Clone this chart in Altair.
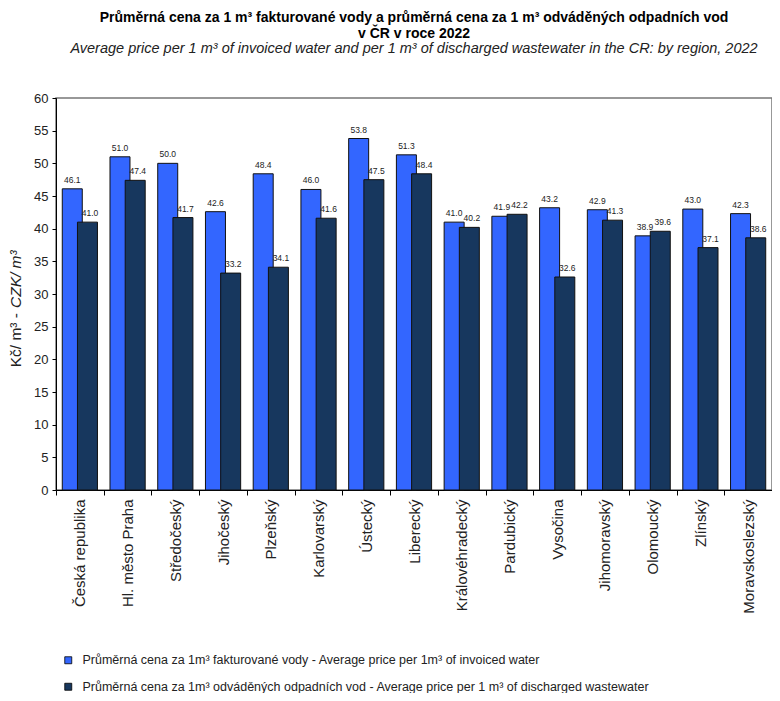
import altair as alt
import pandas as pd

regions = ["Česká republika", "Hl. město Praha", "Středočeský", "Jihočeský", "Plzeňský",
           "Karlovarský", "Ústecký", "Liberecký", "Královéhradecký", "Pardubický",
           "Vysočina", "Jihomoravský", "Olomoucký", "Zlínský", "Moravskoslezský"]
water = [46.1, 51.0, 50.0, 42.6, 48.4, 46.0, 53.8, 51.3, 41.0, 41.9, 43.2, 42.9, 38.9, 43.0, 42.3]
waste = [41.0, 47.4, 41.7, 33.2, 34.1, 41.6, 47.5, 48.4, 40.2, 42.2, 32.6, 41.3, 39.6, 37.1, 38.6]
series_names = [
    "Průměrná cena za 1m³ fakturované vody  - Average price per 1m³ of invoiced water",
    "Průměrná cena za 1m³ odváděných odpadních vod  -  Average price per 1 m³ of discharged wastewater",
]
colors = ["#3366FF", "#17375E"]
y_ticks = list(range(0, 61, 5))
title_lines = ["Průměrná cena za 1 m³ fakturované vody a průměrná cena za 1 m³ odváděných odpadních vod",
               "v ČR v roce 2022"]
subtitle = "Average  price per 1 m³ of invoiced water and per 1 m³ of discharged  wastewater in the CR: by region,  2022"
ytitle_cz = ["Kč/ m³ -"]
ytitle_en = ["CZK/ m³"]

FONT = "Liberation Sans"

rows = []
for s, vals in zip(series_names, [water, waste]):
    for r, v in zip(regions, vals):
        rows.append({"region": r, "series": s, "value": v})
df = pd.DataFrame(rows)

x = alt.X("region:N", sort=regions,
          scale=alt.Scale(paddingInner=0, paddingOuter=0),
          axis=alt.Axis(title=None, labelAngle=270, labelFont=FONT, labelFontSize=15,
                        labelColor="#222", tickBand="extent", tickSize=5, tickColor="#000",
                        domainColor="#000", labelPadding=4))
xo = alt.XOffset("series:N", sort=series_names,
                 scale=alt.Scale(paddingOuter=0.57, paddingInner=0))
y = alt.Y("value:Q", scale=alt.Scale(domain=[0, 60], nice=False),
          axis=alt.Axis(values=y_ticks, title=None, grid=False, labelFont=FONT,
                        labelFontSize=13, labelColor="#222", tickSize=4, tickColor="#000",
                        domainColor="#000", labelPadding=4))

bars = alt.Chart(df).mark_bar(size=20, stroke="#111", strokeWidth=1).encode(
    x=x, xOffset=xo, y=y,
    color=alt.Color("series:N", sort=series_names,
                    scale=alt.Scale(domain=series_names, range=colors),
                    legend=alt.Legend(orient="none", legendX=6, legendY=556, direction="vertical",
                                      title=None, symbolType="square", symbolSize=49,
                                      symbolStrokeColor="#000", symbolStrokeWidth=0.8,
                                      labelFont=FONT, labelFontSize=12.5,
                                      labelColor="#222", labelLimit=0, rowPadding=13.5,
                                      labelOffset=8, padding=0))
)
labels_water = alt.Chart(df).transform_filter(
    alt.datum.series == series_names[0]
).mark_text(baseline="bottom", dy=-4, dx=0, fontSize=8.5, font=FONT, color="#222").encode(
    x=x, xOffset=xo, y=y, text=alt.Text("value:Q", format=".1f"))
labels_waste = alt.Chart(df).transform_filter(
    alt.datum.series == series_names[1]
).mark_text(baseline="bottom", dy=-4, dx=2.5, fontSize=8.5, font=FONT, color="#222").encode(
    x=x, xOffset=xo, y=y, text=alt.Text("value:Q", format=".1f"))

t1 = alt.Chart(pd.DataFrame({"t": ytitle_cz})).mark_text(
    angle=270, align="right", baseline="middle", font=FONT, fontSize=15.5, color="#222"
).encode(x=alt.value(-40), y=alt.value(215), text="t:N")
t2 = alt.Chart(pd.DataFrame({"t": ytitle_en})).mark_text(
    angle=270, align="left", baseline="middle", font=FONT, fontSize=15.5,
    fontStyle="italic", color="#222"
).encode(x=alt.value(-40), y=alt.value(210), text="t:N")

chart = alt.layer(bars, labels_water, labels_waste, t1, t2).properties(
    width=716, height=392,
    autosize=alt.AutoSizeParams(type="none"),
    padding={"left": 48, "top": 90, "right": 0, "bottom": 203},
    title=alt.Title(text=title_lines, subtitle=subtitle, font=FONT,
                    fontSize=14, fontWeight="bold", subtitleFont=FONT,
                    subtitleFontStyle="italic", subtitleFontSize=14.5, anchor="middle",
                    offset=37, lineHeight=16, subtitlePadding=1, color="#000",
                    subtitleColor="#222", frame="group"),
).configure_view(stroke="#777", strokeWidth=1.5)

chart.save("out.html", embed_options={"renderer": "svg", "actions": False})
